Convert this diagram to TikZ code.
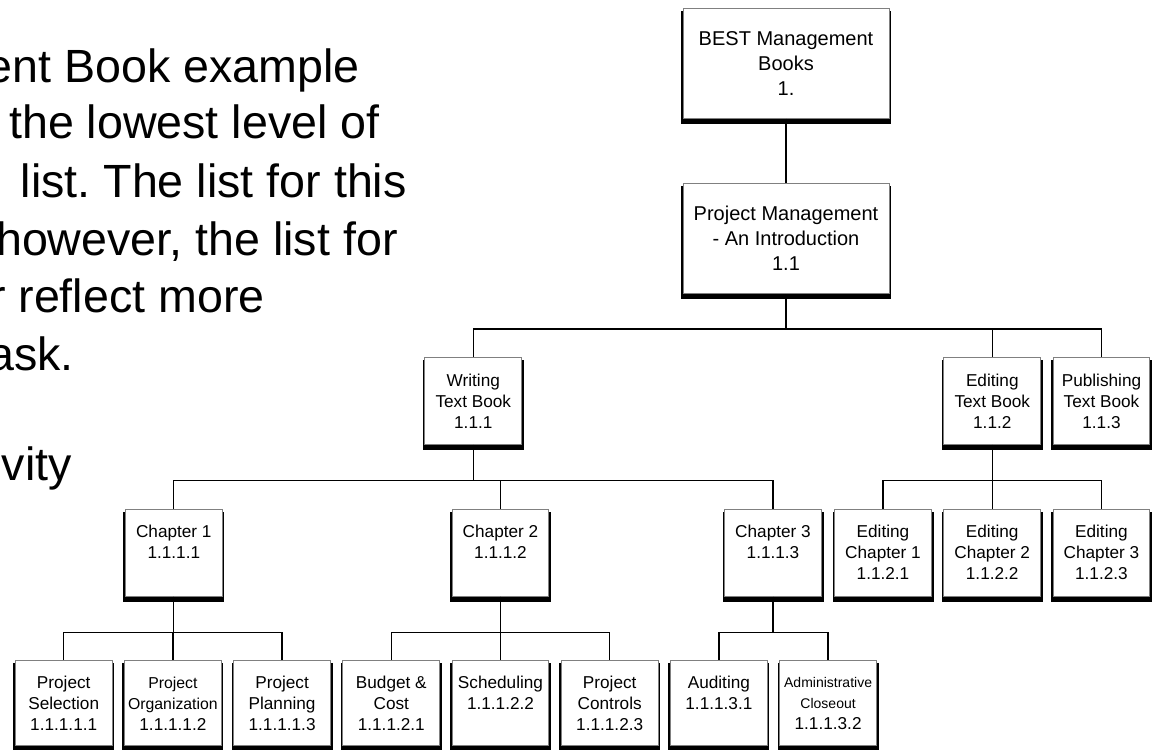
\documentclass[tikz,border=0pt]{standalone}
\usepackage{fontspec}
\setmainfont{Liberation Sans}
\usetikzlibrary{positioning,backgrounds,calc}
\newcommand\wbssmall{\fontsize{7.9pt}{10pt}\selectfont}
\newcommand\wbstiny{\fontsize{7pt}{9.5pt}\selectfont}
\frenchspacing

\tikzset{
  wbs/.style={draw=gray,line width=0.5pt,fill=white,inner sep=0pt,align=center,
    minimum width=48.4pt,minimum height=43.3pt,font=\fontsize{8.6pt}{10.5pt}\selectfont},
  wbstop/.style={wbs,minimum width=103pt,minimum height=55pt,font=\fontsize{10pt}{12.5pt}\selectfont},
  wbsleaf/.style={wbs,minimum height=42.4pt},
  link/.style={line width=0.65pt},
  slidetext/.style={anchor=base east,inner sep=0pt,font=\fontsize{23.3pt}{28pt}\selectfont},
}

\begin{document}
\begin{tikzpicture}[x=0.5pt,y=-0.5pt]
  \useasboundingbox (0,0) rectangle (1152,750);

  % slide text, cut at the left edge
  \node[slidetext] (txa) at (360,82) {ent Book example};
  \node[slidetext] (txb) at (380,138) {the lowest level of};
  \node[slidetext] (txc) at (407,197) {list. The list for this};
  \node[slidetext] (txd) at (398,255) {however, the list for};
  \node[slidetext] (txe) at (265,312) {r reflect more};
  \node[slidetext] (txf) at (74,370) {ask.};
  \node[slidetext] (txg) at (72,480) {vity};

  % top levels
  \node[wbstop] (best) at (786,63.2) {BEST Management\\Books\\1.};
  \node[wbstop] (pm) at (786,238.5) {Project Management\\- An Introduction\\1.1};
  \node[wbs] (wtb) at (473.3,401) {Writing\\Text Book\\1.1.1};
  \node[wbs] (etb) at (992.3,401) {Editing\\Text Book\\1.1.2};
  \node[wbs] (ptb) at (1101.5,401) {Publishing\\Text Book\\1.1.3};

  % chapters
  \node[wbs] (ch1) at (173.8,552.7) {Chapter 1\\1.1.1.1\\~};
  \node[wbs] (ch2) at (500.5,552.7) {Chapter 2\\1.1.1.2\\~};
  \node[wbs] (ch3) at (773,552.7) {Chapter 3\\1.1.1.3\\~};
  \foreach \i in {1,2,3}{
    \node[wbs] (ec\i) at (883+109.2*\i-109.2,552.7) {Editing\\Chapter \i\\1.1.2.\i};
  }

  % work packages
  \foreach \n/\t [count=\i from 0] in {ps/{Project\\Selection\\1.1.1.1.1},
      po/{\wbssmall Project\\\wbssmall Organization\\1.1.1.1.2},
      pp/{Project\\Planning\\1.1.1.1.3},
      bc/{Budget \&\\Cost\\1.1.1.2.1},
      sc/{Scheduling\\1.1.1.2.2\\~},
      pc/{Project\\Controls\\1.1.1.2.3},
      au/{Auditing\\1.1.1.3.1\\~},
      ac/{\wbstiny Administrative\\\wbstiny Closeout\\1.1.1.3.2}}{
    \node[wbsleaf] (\n) at (63.7+109.2*\i,703.3) {\t};
  }

  % shadows
  \begin{scope}[on background layer]
    \foreach \n in {best,pm,wtb,etb,ptb,ch1,ch2,ch3,ec1,ec2,ec3,ps,po,pp,bc,sc,pc,au,ac}
      \fill ([xshift=-0.8pt,yshift=-1.5pt]\n.north west) rectangle ([xshift=0.8pt,yshift=-2.6pt]\n.south east);
  \end{scope}

  % connectors
  \draw[link] (best) -- (pm);
  \foreach \c in {wtb,etb,ptb} \draw[link] (pm.south) -- ++(0,35) -| (\c.north);
  \foreach \c in {ch1,ch2,ch3} \draw[link] (wtb.south) -- ++(0,35.7) -| (\c.north);
  \foreach \c in {ec1,ec2,ec3} \draw[link] (etb.south) -- ++(0,35.7) -| (\c.north);
  \foreach \c in {ps,po,pp} \draw[link] (ch1.south) -- ++(0,35.7) -| (\c.north);
  \foreach \c in {bc,sc,pc} \draw[link] (ch2.south) -- ++(0,35.7) -| (\c.north);
  \foreach \c in {au,ac} \draw[link] (ch3.south) -- ++(0,35.7) -| (\c.north);
\end{tikzpicture}
\end{document}
